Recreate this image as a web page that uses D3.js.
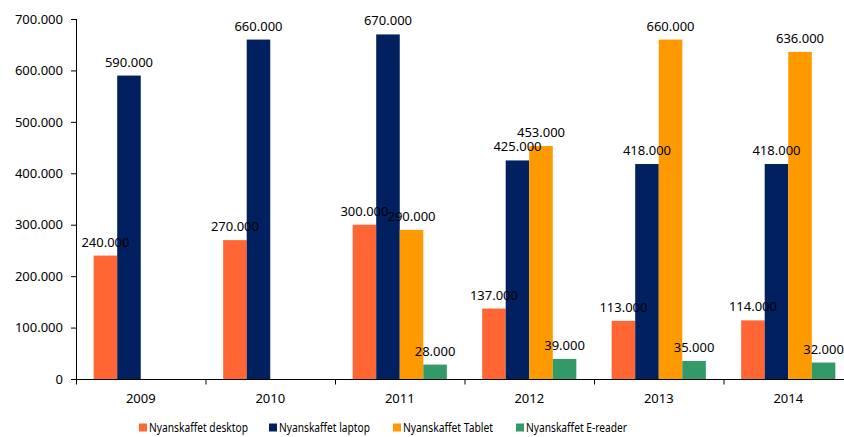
<!DOCTYPE html>
<html><head><meta charset="utf-8">
<script src="https://cdn.jsdelivr.net/npm/d3@7"></script>
<style>body{margin:0;background:#fff}svg{display:block}text{font-family:"Noto Sans",sans-serif;fill:#000}</style>
</head><body>
<script>
const years = ["2009","2010","2011","2012","2013","2014"];
const seriesNames = ["Nyanskaffet desktop","Nyanskaffet laptop","Nyanskaffet Tablet","Nyanskaffet E-reader"];
const desktop = [240000,270000,300000,137000,113000,114000];
const laptop  = [590000,660000,670000,425000,418000,418000];
const tablet  = [null,null,290000,453000,660000,636000];
const ereader = [null,null,28000,39000,35000,32000];
const yTicks = [0,100000,200000,300000,400000,500000,600000,700000];
const colors = ["#FF6633","#002060","#FF9900","#339966"];

const seriesValues = [desktop, laptop, tablet, ereader];
const W = 844, H = 437;
const svg = d3.select("body").append("svg").attr("width", W).attr("height", H);
const loc = d3.formatLocale({decimal:",", thousands:".", grouping:[3], currency:["",""]});
const fmt = loc.format(",d");

const x0 = d3.scaleBand().domain(years).range([76, 853]).padding(0);
const x1 = d3.scaleBand().domain(seriesNames).range([0, x0.bandwidth()]).paddingOuter(0.75).paddingInner(0);
const y = d3.scaleLinear().domain([0, 700000]).range([379, 19]);

// bars
const g = svg.append("g");
seriesNames.forEach((s, si) => {
  const vals = seriesValues[si];
  years.forEach((yr, i) => {
    const v = vals[i];
    if (v == null) return;
    g.append("rect")
      .attr("x", x0(yr) + x1(s))
      .attr("y", y(v))
      .attr("width", x1.bandwidth())
      .attr("height", y(0) - y(v))
      .attr("fill", colors[si]);
  });
});
// labels
seriesNames.forEach((s, si) => {
  const vals = seriesValues[si];
  years.forEach((yr, i) => {
    const v = vals[i];
    if (v == null) return;
    svg.append("text")
      .attr("x", x0(yr) + x1(s) + x1.bandwidth() / 2)
      .attr("y", y(v) - 9)
      .attr("text-anchor", "middle")
      .attr("font-size", 13)
      .text(fmt(v));
  });
});

// y axis
const yAxis = svg.append("g").attr("transform", "translate(76,0)")
  .call(d3.axisLeft(y).tickValues(yTicks).tickSize(5).tickPadding(8).tickFormat(d => fmt(d)));
yAxis.select(".domain").attr("stroke", "#000").attr("d", "M0.5,19V379.5");
yAxis.selectAll(".tick line").attr("stroke", "#000");
yAxis.selectAll("text").attr("font-size", 13).attr("font-family", "Noto Sans");

// x axis
const xAxis = svg.append("g").attr("transform", "translate(0,379.5)");
xAxis.append("line").attr("x1", 76).attr("x2", 853).attr("stroke", "#000");
years.forEach(yr => {
  xAxis.append("line").attr("x1", x0(yr) + 0.5).attr("x2", x0(yr) + 0.5).attr("y1", 0).attr("y2", 5).attr("stroke", "#000");
  xAxis.append("text").attr("x", x0(yr) + x0.bandwidth() / 2).attr("y", 23.5)
    .attr("text-anchor", "middle").attr("font-size", 13).text(yr);
});

// legend
const legendX = [139, 269, 393, 516];
const legendTextW = [99, 91, 90, 101];
const lg = svg.append("g");
seriesNames.forEach((s, si) => {
  lg.append("rect").attr("x", legendX[si]).attr("y", 423.5).attr("width", 8).attr("height", 8).attr("fill", colors[si]);
  lg.append("text").attr("x", legendX[si] + 10).attr("y", 432).attr("font-size", 13)
    .attr("textLength", legendTextW[si]).attr("lengthAdjust", "spacingAndGlyphs").text(s);
});
</script>
</body></html>
